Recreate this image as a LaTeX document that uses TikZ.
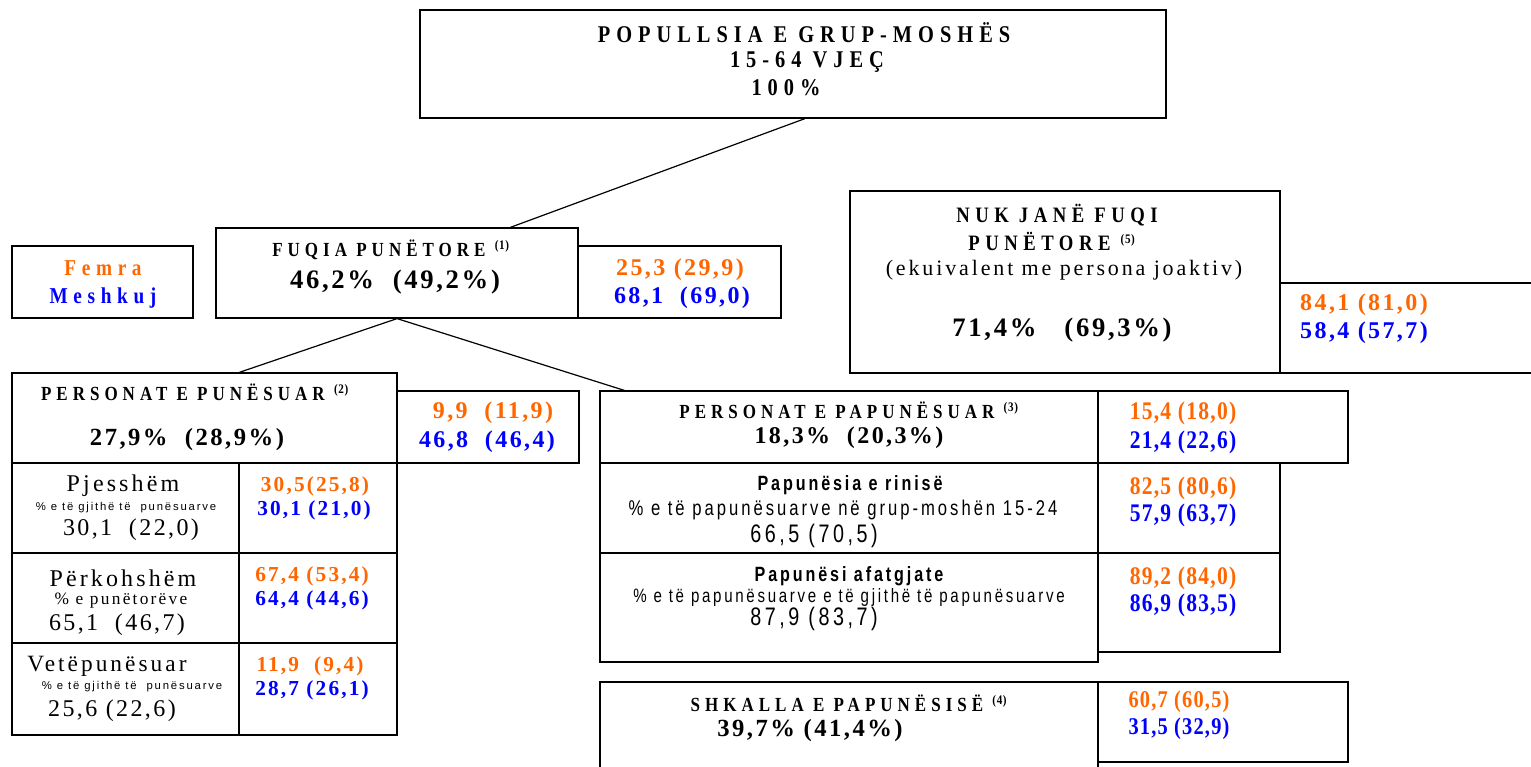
\documentclass[tikz,border=0pt]{standalone}
\usepackage{fontspec}
\setmainfont{Liberation Serif}
\newfontfamily\spacedserif[LetterSpace=25,FakeStretch=0.85]{Liberation Serif}
\newfontfamily\numserif[LetterSpace=10]{Liberation Serif}
\newfontfamily\narrowserif[LetterSpace=5,FakeStretch=0.85]{Liberation Serif}
\newfontfamily\wideserif[LetterSpace=13]{Liberation Serif}
\newfontfamily\narrowsans[LetterSpace=14,FakeStretch=0.78]{Liberation Sans}
\newfontfamily\widesans[LetterSpace=16]{Liberation Sans}
\usetikzlibrary{fit,calc}
\definecolor{femra}{HTML}{FF6600}
\definecolor{meshkuj}{HTML}{0000FF}
\tikzset{
  box/.style={draw,line width=0.9pt,inner sep=0pt},
  lbl/.style={inner sep=0pt},
  caps/.style={lbl,font=\spacedserif\bfseries\fontsize{#1}{#1}\selectfont},
  bignum/.style={lbl,font=\numserif\bfseries\fontsize{#1}{#1}\selectfont},
  thinnum/.style={lbl,font=\narrowserif\bfseries\fontsize{#1}{#1}\selectfont},
  plain/.style={lbl,font=\wideserif\fontsize{#1}{#1}\selectfont},
  plainnum/.style={lbl,font=\numserif\fontsize{#1}{#1}\selectfont},
  sans/.style={lbl,font=\narrowsans\fontsize{#1}{#1}\selectfont},
  sansbold/.style={lbl,font=\narrowsans\bfseries\fontsize{#1}{#1}\selectfont},
  small/.style={lbl,font=\widesans\fontsize{#1}{#1}\selectfont},
  fem/.style={text=femra},
  mas/.style={text=meshkuj},
  link/.style={line width=0.9pt}
}
\newcommand{\note}[1]{{\narrowserif\bfseries\fontsize{14}{14}\selectfont\textsuperscript{(#1)}}}

\begin{document}
\begin{tikzpicture}[x=0.75pt,y=-0.75pt]
\clip (0,0) rectangle (1531,767);

% boxes
\node[box,fit={(420,10)(1166,118)}] (pop) {};
\node[box,fit={(12,246)(193,318)}] (key) {};
\node[box,fit={(216,228)(578,318)}] (fuqia) {};
\node[box,fit={(578,246)(781,318)}] (fuqiav) {};
\node[box,fit={(850,191)(1280,373)}] (nuk) {};
\node[box,fit={(1280,283)(1545,373)}] (nukv) {};
\node[box,fit={(12,373)(397,463)}] (punes) {};
\node[box,fit={(397,391)(579,463)}] (punesv) {};
\node[box,fit={(12,463)(239,553)}] (pjes) {};
\node[box,fit={(239,463)(397,553)}] (pjesv) {};
\node[box,fit={(12,553)(239,643)}] (perk) {};
\node[box,fit={(239,553)(397,643)}] (perkv) {};
\node[box,fit={(12,643)(239,735)}] (vete) {};
\node[box,fit={(239,643)(397,735)}] (vetev) {};
\node[box,fit={(600,391)(1098,463)}] (papunes) {};
\node[box,fit={(1098,391)(1348,463)}] (papunesv) {};
\node[box,fit={(600,463)(1098,553)}] (rini) {};
\node[box,fit={(1098,463)(1280,553)}] (riniv) {};
\node[box,fit={(600,553)(1098,662)}] (afat) {};
\node[box,fit={(1098,553)(1280,652)}] (afatv) {};
\node[box,fit={(600,682)(1098,790)}] (shkalla) {};
\node[box,fit={(1098,682)(1348,762)}] (shkallav) {};

% connectors
\draw[link] ($(pop.south west)!0.516!(pop.south east)$) -- ($(fuqia.north west)!0.812!(fuqia.north east)$);
\draw[link] (fuqia.south) -- ($(punes.north west)!0.59!(punes.north east)$);
\draw[link] (fuqia.south) -- ($(papunes.north west)!0.05!(papunes.north east)$);

% population
\node[caps=18] (t1) at (804,33) {POPULLSIA E GRUP-MOSHËS};
\node[caps=18] (t2) at (807,62) {15-64 VJEÇ};
\node[caps=18] (t3) at (786,88) {100\%};

% key
\node[caps=17,fem] (kf) at (103,268) {Femra};
\node[caps=17,mas] (km) at (103,298) {Meshkuj};

% labour force
\node[caps=15] (f1) at (391,250) {FUQIA PUNËTORE \note{1}};
\node[bignum=20] (f2) at (395,282) {46,2\%\ \ (49,2\%)};
\node[bignum=18,fem] (fv1) at (680,270) {25,3 (29,9)};
\node[bignum=18,mas] (fv2) at (682,298) {68,1\ \ (69,0)};

% inactive
\node[caps=16.5] (n1) at (1057,215) {NUK JANË FUQI};
\node[caps=16.5] (n2) at (1052,241) {PUNËTORE \note{5}};
\node[plain=16.5] (n3) at (1064,270) {(ekuivalent me persona joaktiv)};
\node[bignum=20] (n4) at (1062,330) {71,4\%\ \ \ (69,3\%)};
\node[bignum=18,fem] (nv1) at (1364,305) {84,1 (81,0)};
\node[bignum=18,mas] (nv2) at (1364,333) {58,4 (57,7)};

% employed
\node[caps=15] (e1) at (195,392) {PERSONAT E PUNËSUAR \note{2}};
\node[bignum=18.5] (e2) at (187,440) {27,9\%\ \ (28,9\%)};
\node[bignum=18,fem] (ev1) at (493,413) {9,9\ \ (11,9)};
\node[bignum=18,mas] (ev2) at (487,442) {46,8\ \ (46,4)};

\node[plain=18] (p1) at (123,486) {Pjesshëm};
\node[small=8.5] (p2) at (126,508) {\% e të gjithë të\ \ punësuarve};
\node[plainnum=18] (p3) at (131,530) {30,1\ \ (22,0)};
\node[bignum=16,fem] (pv1) at (315,486) {30,5(25,8)};
\node[bignum=16,mas] (pv2) at (314,510) {30,1 (21,0)};

\node[plain=18] (k1) at (123,578) {Përkohshëm};
\node[plain=13] (k2) at (121,601) {\% e punëtorëve};
\node[plainnum=18] (k3) at (117,625) {65,1\ \ (46,7)};
\node[bignum=16,fem] (kv1) at (312,576) {67,4 (53,4)};
\node[bignum=16,mas] (kv2) at (312,600) {64,4 (44,6)};

\node[plain=17.5] (v1) at (107,666) {Vetëpunësuar};
\node[small=8.5] (v2) at (132,687) {\% e të gjithë të\ \ punësuarve};
\node[plainnum=18] (v3) at (112,711) {25,6 (22,6)};
\node[bignum=16,fem] (vv1) at (310,666) {11,9\ \ (9,4)};
\node[bignum=16,mas] (vv2) at (312,690) {28,7 (26,1)};

% unemployed
\node[caps=15] (u1) at (849,410) {PERSONAT E PAPUNËSUAR \note{3}};
\node[bignum=18] (u2) at (849,438) {18,3\%\ \ (20,3\%)};
\node[thinnum=19,fem] (uv1) at (1183,413) {15,4 (18,0)};
\node[thinnum=19,mas] (uv2) at (1183,442) {21,4 (22,6)};

\node[sansbold=15.5] (r1) at (850,485) {Papunësia e rinisë};
\node[sans=16] (r2) at (843,510) {\% e të papunësuarve në grup-moshën 15-24};
\node[sans=19] (r3) at (814,536) {66,5 (70,5)};
\node[thinnum=19,fem] (rv1) at (1183,488) {82,5 (80,6)};
\node[thinnum=19,mas] (rv2) at (1183,515) {57,9 (63,7)};

\node[sansbold=15.5] (a1) at (849,576) {Papunësi afatgjate};
\node[sans=14.5] (a2) at (849,597) {\% e të papunësuarve e të gjithë të papunësuarve};
\node[sans=19] (a3) at (814,619) {87,9 (83,7)};
\node[thinnum=19,fem] (av1) at (1183,578) {89,2 (84,0)};
\node[thinnum=19,mas] (av2) at (1183,605) {86,9 (83,5)};

% rate
\node[caps=15] (s1) at (849,703) {SHKALLA E PAPUNËSISË \note{4}};
\node[bignum=18.5] (s2) at (810,731) {39,7\% (41,4\%)};
\node[thinnum=18,fem] (sv1) at (1179,702) {60,7 (60,5)};
\node[thinnum=18,mas] (sv2) at (1179,729) {31,5 (32,9)};
\end{tikzpicture}
\end{document}
